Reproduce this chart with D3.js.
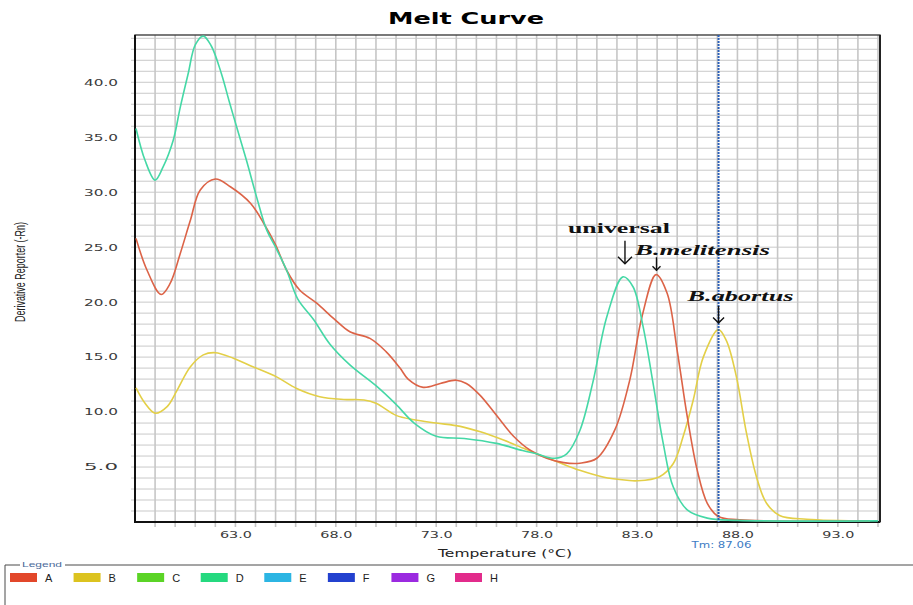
<!DOCTYPE html>
<html>
<head>
<meta charset="utf-8">
<script src="https://cdn.jsdelivr.net/npm/d3@7"></script>
<style>
  body { margin: 0; background: #fff; }
  svg { display: block; font-family: "Liberation Sans", Arial, sans-serif; }
</style>
</head>
<body>
<div id="chart"></div>
<script>
// well D (green) - universal
const tempsD = [58.05, 58.5, 59.0, 59.4, 59.9, 60.25, 60.65, 61.0, 61.4, 61.8, 62.3, 62.7, 63.1, 63.55, 64.05, 64.55, 65.0, 65.55, 66.1, 66.9, 67.7, 68.7, 70.0, 71.0, 71.9, 73.0, 74.4, 76.0, 77.3, 78.0, 78.9, 79.5, 80.15, 80.8, 81.5, 82.3, 82.8, 83.3, 83.8, 84.3, 84.8, 85.5, 86.5, 88.0, 95.0];
const valsD  = [35.8, 32.9, 31.1, 32.3, 34.7, 37.7, 40.8, 43.4, 44.2, 43.3, 40.8, 38.2, 35.7, 32.9, 29.6, 26.6, 25.0, 22.9, 20.3, 18.4, 16.2, 14.3, 12.4, 10.7, 9.0, 7.8, 7.6, 7.15, 6.5, 6.2, 5.8, 6.2, 8.3, 12.7, 18.7, 22.3, 21.4, 17.8, 12.6, 7.2, 3.2, 1.1, 0.35, 0.15, 0.1];

// well A (red) - B.melitensis
const tempsA = [58.05, 58.6, 59.3, 59.75, 60.25, 60.75, 61.25, 62.0, 62.75, 63.75, 64.4, 65.0, 65.55, 66.2, 67.05, 67.9, 68.7, 69.7, 70.5, 71.2, 71.6, 72.35, 73.2, 74.0, 74.5, 75.2, 76.0, 76.85, 77.7, 78.5, 79.35, 80.15, 81.0, 81.9, 82.65, 83.25, 83.95, 84.5, 85.0, 85.5, 86.0, 86.5, 87.05, 88.1, 94.6];
const valsA  = [25.8, 22.9, 20.7, 21.7, 24.4, 27.4, 30.2, 31.2, 30.5, 29.0, 27.2, 25.2, 22.9, 21.1, 19.9, 18.5, 17.3, 16.7, 15.5, 14.0, 13.0, 12.25, 12.6, 12.9, 12.6, 11.5, 9.7, 7.8, 6.5, 5.8, 5.4, 5.35, 5.8, 8.4, 13.0, 18.7, 22.5, 20.8, 15.6, 9.6, 4.7, 1.7, 0.5, 0.2, 0.1];

// well B (yellow) - B.abortus
const tempsB = [58.05, 58.5, 59.0, 59.6, 60.1, 60.75, 61.4, 62.0, 62.9, 63.9, 65.05, 66.05, 67.2, 68.4, 69.4, 70.0, 71.0, 71.9, 73.0, 74.2, 75.2, 76.35, 77.35, 78.0, 79.0, 80.15, 81.3, 82.5, 83.0, 84.1, 84.8, 85.3, 85.8, 86.3, 87.05, 87.45, 87.95, 88.45, 88.95, 89.45, 90.1, 91.45, 94.6];
const valsB  = [12.2, 10.8, 9.9, 10.5, 12.0, 14.1, 15.2, 15.4, 14.9, 14.1, 13.2, 12.15, 11.4, 11.15, 11.1, 10.8, 9.7, 9.3, 9.0, 8.7, 8.2, 7.45, 6.7, 6.2, 5.5, 4.7, 4.1, 3.8, 3.75, 4.1, 5.3, 7.8, 11.1, 15.0, 17.5, 16.5, 13.2, 8.1, 4.1, 1.7, 0.6, 0.25, 0.1];

const xTicks = [63, 68, 73, 78, 83, 88, 93];
const yTicks = [5, 10, 15, 20, 25, 30, 35, 40];
const tmValue = 87.06;

const legendKeys = ['A', 'B', 'C', 'D', 'E', 'F', 'G', 'H'];
const legendColors = ['#e2472a', '#dcc31f', '#5bd426', '#25d97f', '#2cb5e3', '#2341cf', '#9b2ae0', '#e22b8b'];

const annoLabels = ['universal', 'B.melitensis', 'B.abortus'];
const annoTemps = [82.4, 83.97, 87.06];
const annoVals = [23.5, 22.9, 18.1];

const W = 913, H = 605;
const m = { left: 135, right: 880, top: 35, bottom: 522 };

const svg = d3.select('#chart').append('svg')
  .attr('width', W).attr('height', H);

const x = d3.scaleLinear().domain([58, 95.1]).range([m.left, m.right]);
const y = d3.scaleLinear().domain([0, 44.3]).range([m.bottom, m.top]);

// title
svg.append('text')
  .attr('x', 466).attr('y', 24)
  .attr('text-anchor', 'middle')
  .style('font-family', '"DejaVu Sans", sans-serif')
  .style('font-weight', 'bold').style('font-size', '15px')
  .attr('textLength', 156).attr('lengthAdjust', 'spacingAndGlyphs')
  .text('Melt Curve');

// grid
const grid = svg.append('g');
grid.selectAll('.hg').data(d3.range(1, 45))
  .enter().append('line')
  .attr('x1', m.left - 4).attr('x2', m.right)
  .attr('y1', d => y(d)).attr('y2', d => y(d))
  .attr('stroke', '#c9c9c9').attr('stroke-width', 1);
grid.selectAll('.vg').data(d3.range(59, 96))
  .enter().append('line')
  .attr('x1', d => x(d)).attr('x2', d => x(d))
  .attr('y1', m.top).attr('y2', m.bottom + 5)
  .attr('stroke', '#c6c6c6').attr('stroke-width', 1.6);

// axes tick labels
const xAxis = d3.axisBottom(x).tickValues(xTicks).tickFormat(d3.format('.1f')).tickSize(0).tickPadding(10);
const gx = svg.append('g').attr('transform', `translate(0,${m.bottom})`).call(xAxis);
gx.select('.domain').remove();
gx.selectAll('text')
  .style('font-size', '9px').style('fill', '#3a3a3a')
  .style('font-family', '"DejaVu Sans", sans-serif')
  .attr('textLength', 32).attr('lengthAdjust', 'spacingAndGlyphs');

const yAxis = d3.axisLeft(y).tickValues(yTicks).tickFormat(d3.format('.1f')).tickSize(0).tickPadding(17);
const gy = svg.append('g').attr('transform', `translate(${m.left},0)`).call(yAxis);
gy.select('.domain').remove();
gy.selectAll('text')
  .style('font-size', '9px').style('fill', '#3a3a3a')
  .style('font-family', '"DejaVu Sans", sans-serif')
  .attr('textLength', 34).attr('lengthAdjust', 'spacingAndGlyphs');

// frame
svg.append('rect')
  .attr('x', m.left).attr('y', m.top)
  .attr('width', m.right - m.left).attr('height', m.bottom - m.top)
  .attr('fill', 'none').attr('stroke', '#333').attr('stroke-width', 1.3);
svg.append('line').attr('x1', m.left).attr('x2', m.left).attr('y1', m.top).attr('y2', m.bottom + 1)
  .attr('stroke', '#111').attr('stroke-width', 2);
svg.append('line').attr('x1', m.left).attr('x2', m.right).attr('y1', m.bottom).attr('y2', m.bottom)
  .attr('stroke', '#111').attr('stroke-width', 2);
svg.append('line').attr('x1', m.right).attr('x2', m.right).attr('y1', m.top).attr('y2', m.bottom)
  .attr('stroke', '#222').attr('stroke-width', 2);

// curves
svg.append('clipPath').attr('id', 'clip')
  .append('rect').attr('x', m.left).attr('y', m.top)
  .attr('width', m.right - m.left).attr('height', m.bottom - m.top);

const line = d3.line()
  .x(d => x(d[0])).y(d => y(d[1]))
  .curve(d3.curveCatmullRom.alpha(0.5));

const series = [
  { t: tempsB, v: valsB, color: '#e3cf47' },
  { t: tempsA, v: valsA, color: '#dc6347' },
  { t: tempsD, v: valsD, color: '#45d8a6' }
];
const curves = svg.append('g').attr('clip-path', 'url(#clip)');
series.forEach(s => {
  curves.append('path')
    .datum(d3.zip(s.t, s.v))
    .attr('fill', 'none')
    .attr('stroke', s.color)
    .attr('stroke-width', 1.6)
    .attr('d', line);
});

// Tm line
svg.append('line')
  .attr('x1', x(tmValue)).attr('x2', x(tmValue))
  .attr('y1', m.top).attr('y2', m.bottom)
  .attr('stroke', '#2a5fb8').attr('stroke-width', 2)
  .attr('stroke-dasharray', '2,1');
svg.append('text')
  .attr('x', x(tmValue) + 3).attr('y', 548)
  .attr('text-anchor', 'middle')
  .style('font-size', '9px').style('fill', '#3d7cc4')
  .style('font-family', '"DejaVu Sans", sans-serif')
  .attr('textLength', 60).attr('lengthAdjust', 'spacingAndGlyphs')
  .text('Tm: ' + tmValue.toFixed(2));

// axis titles
svg.append('text')
  .attr('x', 505).attr('y', 557)
  .attr('text-anchor', 'middle')
  .style('font-size', '10px').style('fill', '#222')
  .style('font-family', '"DejaVu Sans", sans-serif')
  .attr('textLength', 134).attr('lengthAdjust', 'spacingAndGlyphs')
  .text('Temperature (°C)');

svg.append('text')
  .attr('transform', 'translate(25,272) rotate(-90)')
  .attr('text-anchor', 'middle')
  .style('font-size', '15px').style('fill', '#222')
  .attr('textLength', 100).attr('lengthAdjust', 'spacingAndGlyphs')
  .text('Derivative Reporter (-Rn)');

// annotations: arrow line, V head and label above
const annoStyle = [
  { dx: -6, ty: -8, len: 23, head: 7, italic: false, w: 102 },
  { dx: 46, ty: -2, len: 13, head: 4, italic: true, w: 135 },
  { dx: 22, ty: -5, len: 17, head: 5.5, italic: true, w: 106 }
];
annoLabels.forEach((lab, i) => {
  const ax = x(annoTemps[i]), ay = y(annoVals[i]);
  const st = annoStyle[i];
  const g = svg.append('g');
  g.append('line')
    .attr('x1', ax).attr('x2', ax).attr('y1', ay - st.len).attr('y2', ay)
    .attr('stroke', '#111').attr('stroke-width', 1.4);
  g.append('path')
    .attr('d', `M${ax - st.head},${ay - st.head} L${ax},${ay} L${ax + st.head},${ay - st.head}`)
    .attr('fill', 'none').attr('stroke', '#111').attr('stroke-width', 1.4);
  g.append('text')
    .attr('x', ax + st.dx).attr('y', ay - st.len + st.ty)
    .attr('text-anchor', 'middle')
    .style('font-family', '"Liberation Serif", "Times New Roman", serif')
    .style('font-weight', 'bold')
    .style('font-style', st.italic ? 'italic' : 'normal')
    .style('font-size', '15px').style('fill', '#111')
    .attr('textLength', st.w).attr('lengthAdjust', 'spacingAndGlyphs')
    .text(lab);
});

// legend
const lg = svg.append('g');
lg.append('path')
  .attr('d', 'M20,565 H5 V605 M65,565 H913')
  .attr('fill', 'none').attr('stroke', '#4a4a4a').attr('stroke-width', 1);
lg.append('text')
  .attr('x', 22).attr('y', 567)
  .style('font-size', '7px').style('fill', '#4a6a9a')
  .attr('textLength', 40).attr('lengthAdjust', 'spacingAndGlyphs')
  .text('Legend');
const lx = d3.scalePoint().domain(legendKeys).range([10, 455]);
const items = lg.selectAll('.item').data(legendKeys).enter().append('g')
  .attr('transform', d => `translate(${lx(d)},573)`);
items.append('rect')
  .attr('width', 27).attr('height', 9)
  .attr('fill', (d, i) => legendColors[i]);
items.append('text')
  .attr('x', 35).attr('y', 9)
  .style('font-size', '11px').style('fill', '#222')
  .text(d => d);
</script>
</body>
</html>
